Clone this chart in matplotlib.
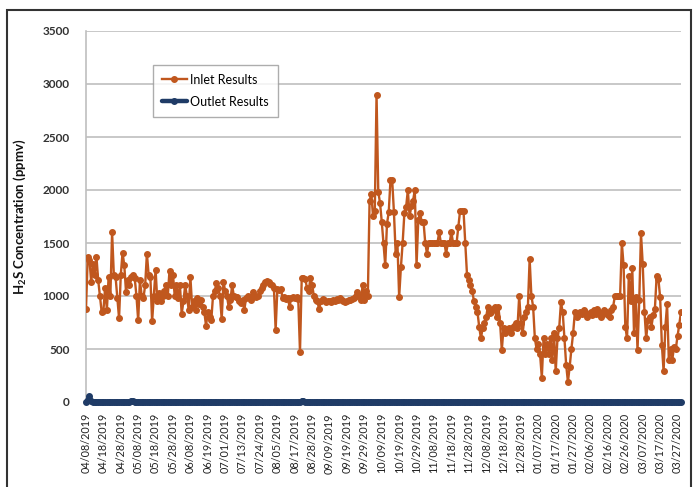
import matplotlib
matplotlib.use("Agg")
import matplotlib.pyplot as plt
from matplotlib.patches import Rectangle
import numpy as np

# Category tick labels (one every 10 samples)
tick_labels = [
    "04/08/2019", "04/18/2019", "04/28/2019", "05/08/2019", "05/18/2019",
    "05/28/2019", "06/08/2019", "06/19/2019", "07/01/2019", "07/13/2019",
    "07/24/2019", "08/05/2019", "08/17/2019", "08/28/2019", "09/09/2019",
    "09/19/2019", "09/29/2019", "10/09/2019", "10/19/2019", "10/29/2019",
    "11/08/2019", "11/18/2019", "11/28/2019", "12/08/2019", "12/18/2019",
    "12/28/2019", "01/07/2020", "01/17/2020", "01/27/2020", "02/06/2020",
    "02/16/2020", "02/26/2020", "03/07/2020", "03/17/2020", "03/27/2020",
]

# Inlet H2S concentration (ppmv), one row per 10 samples
inlet = [
    880, 1370, 1340, 1130, 1300, 1200, 1370, 1150, 1000, 850,
    860, 1080, 870, 1180, 1000, 1600, 1200, 1180, 980, 790,
    1200, 1410, 1290, 1040, 1150, 1100, 1180, 1200, 1170, 1000,
    770, 1150, 1000, 980, 1100, 1400, 1200, 1180, 760, 1000,
    1250, 950, 1030, 950, 1000, 1050, 1100, 1000, 1240, 1100,
    1200, 1000, 1100, 980, 1100, 830, 950, 1100, 1000, 870,
    1180, 900, 950, 870, 980, 920, 960, 900, 850, 720,
    850, 800, 770, 1000, 1050, 1120, 1080, 1000, 780, 1130,
    1050, 1000, 900, 960, 1100, 1000, 990, 990, 950, 930,
    960, 870, 980, 1000, 980, 960, 1040, 1000, 990, 1000,
    1050, 1080, 1100, 1135, 1140, 1130, 1110, 1100, 1080, 680,
    1070, 1060, 1070, 980, 990, 970, 980, 900, 980, 990,
    980, 990, 970, 475, 1170, 1170, 1160, 1080, 1050, 1170,
    1100, 1000, 960, 950, 875, 950, 970, 960, 940, 950,
    950, 940, 960, 950, 970, 960, 980, 960, 950, 940,
    950, 960, 960, 970, 980, 1000, 1040, 1000, 960, 1100,
    960, 1050, 1000, 1900, 1960, 1750, 1800, 2900, 1980, 1880,
    1700, 1500, 1290, 1680, 1790, 2090, 2090, 1790, 1400, 1500,
    990, 1270, 1500, 1780, 1840, 2000, 1750, 1850, 1900, 2000,
    1290, 1720, 1780, 1700, 1700, 1500, 1400, 1500, 1500, 1500,
    1500, 1500, 1500, 1600, 1500, 1500, 1500, 1400, 1500, 1500,
    1600, 1500, 1500, 1500, 1650, 1800, 1800, 1800, 1500, 1200,
    1150, 1100, 1050, 950, 900, 850, 710, 600, 700, 750,
    800, 900, 840, 850, 880, 900, 800, 900, 750, 490,
    700, 650, 680, 700, 650, 700, 720, 750, 700, 1000,
    750, 650, 800, 850, 900, 1350, 1000, 900, 600, 500,
    550, 450, 230, 600, 450, 550, 450, 600, 400, 650,
    290, 600, 700, 940, 850, 600, 350, 190, 330, 500,
    650, 850, 800, 820, 850, 830, 870, 850, 800, 830,
    850, 820, 870, 830, 880, 850, 800, 830, 870, 850,
    820, 800, 870, 900, 1000, 1000, 1000, 1000, 1500, 1290,
    710, 600, 1190, 950, 1260, 650, 990, 490, 960, 1590,
    1300, 850, 600, 770, 800, 710, 820, 880, 1190, 1160,
    990, 540, 290, 710, 920, 400, 500, 400, 520, 500,
    620, 730, 850,
]

# Outlet H2S concentration (ppmv)
outlet = [
    0, 20, 55, 10, 0, 0, 0, 0, 0, 0,
    0, 0, 0, 0, 0, 0, 0, 0, 0, 0,
    0, 0, 0, 0, 0, 0, 12, 10, 0, 0,
    0, 0, 0, 0, 0, 0, 0, 0, 0, 0,
    0, 0, 0, 0, 0, 0, 0, 0, 0, 0,
    0, 0, 0, 0, 0, 0, 0, 0, 0, 0,
    0, 0, 0, 0, 0, 0, 0, 0, 0, 0,
    0, 0, 0, 0, 0, 0, 0, 0, 0, 0,
    0, 0, 0, 0, 0, 0, 0, 0, 0, 0,
    0, 0, 0, 0, 0, 0, 0, 0, 0, 0,
    0, 0, 0, 0, 0, 0, 0, 0, 0, 0,
    0, 0, 0, 0, 0, 0, 0, 0, 0, 0,
    0, 0, 0, 0, 10, 8, 0, 0, 0, 0,
    0, 0, 0, 0, 0, 0, 0, 0, 0, 0,
    0, 0, 0, 0, 0, 0, 0, 0, 0, 0,
    0, 0, 0, 0, 0, 0, 0, 0, 0, 0,
    0, 0, 0, 0, 0, 0, 0, 0, 0, 0,
    0, 0, 0, 0, 0, 0, 0, 0, 0, 0,
    0, 0, 0, 0, 0, 0, 0, 0, 0, 0,
    0, 0, 0, 0, 0, 0, 0, 0, 0, 0,
    0, 0, 0, 0, 0, 0, 0, 0, 0, 0,
    0, 0, 0, 0, 0, 0, 0, 0, 0, 0,
    0, 0, 0, 0, 0, 0, 0, 0, 0, 0,
    0, 0, 0, 0, 0, 0, 0, 0, 0, 0,
    0, 0, 0, 0, 0, 0, 0, 0, 0, 0,
    0, 0, 0, 0, 0, 0, 0, 0, 0, 0,
    0, 0, 0, 0, 0, 0, 0, 0, 0, 0,
    0, 0, 0, 0, 0, 0, 0, 0, 0, 0,
    0, 0, 0, 0, 0, 0, 0, 0, 0, 0,
    0, 0, 0, 0, 0, 0, 0, 0, 0, 0,
    0, 0, 0, 0, 0, 0, 0, 0, 0, 0,
    0, 0, 0, 0, 0, 0, 0, 0, 0, 0,
    0, 0, 0, 0, 0, 0, 0, 0, 0, 0,
    0, 0, 0, 0, 0, 0, 0, 0, 0, 0,
    0, 0, 0,
]

y_ticks = [0, 500, 1000, 1500, 2000, 2500, 3000, 3500]

plt.rcParams["font.family"] = ["Lato", "DejaVu Sans"]
plt.rcParams["mathtext.fontset"] = "custom"
plt.rcParams["mathtext.rm"] = "Lato:bold"
plt.rcParams["mathtext.bf"] = "Lato:bold"

W, H = 698, 487
fig = plt.figure(figsize=(W / 100, H / 100), dpi=100)
ax = fig.add_axes([86 / W, 1 - 402 / H, 595 / W, 371 / H])

x = np.arange(len(inlet))

INLET_C = "#C0571E"
OUTLET_C = "#1F3B66"

ax.plot(x, inlet, color=INLET_C, lw=1.7, marker="o", ms=4.0,
        mec=INLET_C, mfc=INLET_C, label="Inlet Results", zorder=3)
ax.plot(x, outlet, color=OUTLET_C, lw=3.2, marker="o", ms=4.0,
        mec=OUTLET_C, mfc=OUTLET_C, label="Outlet Results",
        zorder=4, clip_on=False, solid_capstyle="round")

ax.set_xlim(0, len(inlet) - 1)
ax.set_ylim(0, 3500)
ax.set_yticks(y_ticks)
ax.set_yticklabels([str(v) for v in y_ticks], fontsize=8.5,
                   fontweight="bold", color="#333333")
ax.set_xticks(x[::10][:len(tick_labels)])
ax.set_xticklabels(tick_labels, rotation=90, fontsize=7.8, color="#222222")
ax.tick_params(axis="both", length=0)
ax.tick_params(axis="y", pad=12)
ax.tick_params(axis="x", pad=8)

ax.grid(axis="y", color="#BFBFBF", lw=1.2)
ax.set_axisbelow(True)
for side in ("top", "right", "bottom"):
    ax.spines[side].set_visible(False)
ax.spines["left"].set_color("#BFBFBF")
ax.spines["left"].set_linewidth(1.2)

ax.set_ylabel(r"H$_\mathregular{2}$S Concentration (ppmv)", fontsize=9.5,
              fontweight="bold", labelpad=10, color="#111111")

leg = ax.legend(loc="upper left", bbox_to_anchor=((153 - 86) / 595, (402 - 65) / 371),
                borderaxespad=0, fancybox=False, fontsize=9,
                handlelength=2.0, handletextpad=0.3, borderpad=0.7,
                labelspacing=0.8)
leg.get_frame().set_edgecolor("#999999")
leg.get_frame().set_linewidth(1.0)

# Outer frame around the figure
fig.patches.append(Rectangle((7 / W, -0.05), (691 - 7) / W, 1 - 10 / H + 0.05,
                             transform=fig.transFigure, fill=False,
                             edgecolor="#333333", lw=1.5))

fig.savefig("out.png", dpi=100)
